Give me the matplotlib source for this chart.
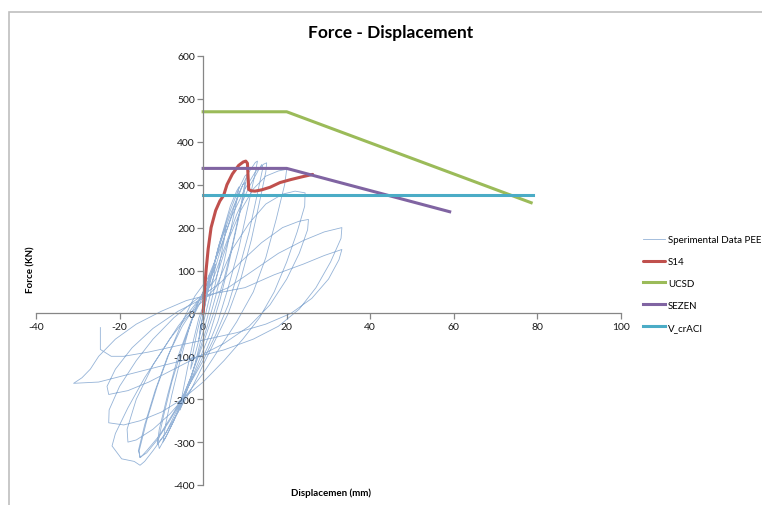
import matplotlib
matplotlib.use("Agg")
import matplotlib.pyplot as plt
from matplotlib.patches import Rectangle

plt.rcParams['font.family'] = ['Lato', 'DejaVu Sans']

# Cyclic test record (displacement mm, force kN), one cycle per row
exp_disp = [
    0, 0.5, 1, 1.5, 1.2, 0.5, -0.5, -1, -0.8, 0,
    1, 2, 3, 2.6, 1.6, 0.5, -0.5, -1.5, -2.5, -3, -2.6, -1.6, -0.6, 0.3,
    1.2, 2.5, 3.8, 5, 5.5, 5, 3.8, 2.5, 1, -0.5, -2, -3.5, -5, -5.5, -5, -3.8, -2.5, -1, 0.5,
    2, 3.5, 5, 6.5, 8, 8.6, 8, 6.5, 5, 3, 1, -1, -3, -5, -7, -9, -9.6, -9, -7.5, -5.5, -3.5, -1.5, 0.5,
    2.5, 4.5, 6.5, 8.5, 10, 10.5, 9.8, 8, 6, 4, 1.5, -1, -3.5, -6, -8.5, -10.5, -10.8, -9.5, -7.5, -5, -2.5, 0,
    3, 5.5, 7.5, 9.5, 10, 9, 7, 5, 2.5, 0, -3, -6, -9, -11, -10.5, -8.5, -6, -3, -0.5,
    2, 4, 6.5, 9, 11, 12.5, 13, 12.3, 10.5, 8.5, 6, 3.5, 1, -2, -5, -8, -11, -13.5, -15.2, -15.3, -13.5, -11, -8, -5, -2, 1,
    4, 7, 10, 12.5, 14.5, 15.2, 15, 13.5, 11.5, 9, 6, 3, 0, -3, -6, -9, -12, -14, -15.1, -16.5, -19.5, -21.8, -21, -18, -14, -10, -6, -2, 2,
    5, 8, 11, 13, 14, 14.3, 13, 11, 8.5, 6, 3, 0, -3.5, -7, -10.5, -13.5, -15, -15.5, -14, -11.5, -8.5, -5, -1, 3,
    6, 9, 12, 15, 18, 20, 19.5, 17.5, 15, 12, 8, 4, 0, -4, -8, -12, -16, -18, -18.2, -16, -12, -8, -4, 0, 3,
    7, 11, 15, 19, 22, 24.4, 24.3, 22.5, 20, 17, 13.5, 9.5, 5, 0, -5, -10, -15, -19, -22.6, -22.5, -20, -16, -12, -7, -2, 4,
    9, 14, 19, 23, 25.2, 25, 23, 20, 16, 11, 5, -1, -7, -13, -18, -22.6, -23, -21, -17, -12, -6, 0, 6,
    12, 18, 24, 29, 33.2, 33, 30.5, 27, 23, 18, 12, 5, -3, -11, -19, -25, -31, -29, -27, -25, -21, -16, -10, -4, 2,
    10, 17, 24, 29, 33.2, 32.5, 30, 26, 21, 15, 8, 1, -6, -13, -19, -22, -24.6, -24.6, -24.6,
]
exp_force = [
    0, 30, 60, 90, 60, 20, -30, -60, -40, 0,
    45, 85, 115, 90, 40, -5, -40, -80, -115, -130, -100, -50, -10, 20,
    60, 110, 160, 195, 205, 170, 110, 50, -10, -60, -120, -170, -210, -225, -190, -130, -70, -10, 30,
    90, 150, 200, 250, 285, 295, 260, 190, 120, 40, -30, -90, -150, -200, -250, -290, -300, -260, -190, -110, -40, 20, 60,
    110, 180, 240, 290, 320, 325, 280, 200, 110, 30, -50, -110, -170, -230, -280, -315, -300, -240, -160, -80, -10, 40,
    110, 190, 250, 300, 305, 250, 160, 80, 0, -70, -150, -220, -280, -305, -270, -190, -100, -20, 40,
    90, 160, 230, 290, 330, 352, 355, 320, 240, 150, 60, -20, -80, -140, -200, -250, -295, -325, -336, -320, -250, -170, -90, -20, 40, 80,
    150, 230, 290, 330, 348, 351, 330, 260, 170, 80, 0, -60, -120, -180, -230, -280, -320, -345, -354, -345, -339, -309, -280, -220, -150, -90, -30, 20, 70,
    150, 230, 295, 330, 347, 340, 280, 190, 100, 20, -50, -110, -170, -230, -285, -320, -336, -320, -260, -180, -100, -30, 30, 80,
    170, 240, 290, 320, 332, 336, 300, 220, 130, 50, -20, -80, -140, -190, -235, -270, -295, -300, -270, -200, -120, -60, -10, 30, 60,
    150, 210, 255, 278, 285, 281, 250, 190, 120, 50, -10, -60, -110, -160, -200, -230, -250, -260, -255, -225, -170, -110, -60, -10, 30, 70,
    120, 165, 200, 215, 219, 195, 140, 80, 20, -30, -70, -100, -130, -160, -180, -189, -170, -130, -80, -35, 5, 35, 60,
    100, 140, 170, 190, 200, 175, 120, 60, 10, -30, -60, -85, -105, -125, -145, -160, -163, -150, -130, -100, -60, -25, 5, 30, 45,
    60, 90, 115, 135, 149, 125, 80, 35, 0, -25, -45, -60, -75, -90, -100, -100, -84, -55, -33,
]

# Monotonic S14 response
s14_disp = [0, 0.3, 0.7, 1.2, 1.9, 3.0, 4.0, 4.9, 5.7, 7.0, 8.5, 9.6, 10.2, 10.6, 10.9, 11.4, 12.4, 14.0, 16.0, 18.4, 21.0, 23.5, 26.2]
s14_force = [0, 50, 100, 150, 200, 240, 262, 275, 300, 325, 345, 353, 355, 350, 289, 286, 285, 288, 294, 305, 312, 318, 324]

# Capacity models
ucsd_disp = [0, 20, 78.5]
ucsd_force = [470, 470, 258]
sezen_disp = [0, 20, 59]
sezen_force = [338, 338, 237]
aci_disp = [0, 79]
aci_force = [275, 275]

x_ticks = list(range(-40, 101, 20))
y_ticks = list(range(-400, 601, 100))

fig = plt.figure(figsize=(7.62, 5.06), dpi=100)
ax = fig.add_axes([36 / 762, 1 - 486 / 506, (621 - 36) / 762, (486 - 57) / 506])

ax.plot(exp_disp, exp_force, color='#4F81BD', lw=0.6, alpha=0.6, label='Sperimental Data PEER')
ax.plot(s14_disp, s14_force, color='#C0504D', lw=2.2, label='S14', solid_capstyle='round')
ax.plot(ucsd_disp, ucsd_force, color='#9BBB59', lw=2.2, label='UCSD')
ax.plot(sezen_disp, sezen_force, color='#8064A2', lw=2.2, label='SEZEN')
ax.plot(aci_disp, aci_force, color='#4BACC6', lw=2.2, label='V_crACI')

ax.set_xlim(-40, 100)
ax.set_ylim(-400, 600)
ax.set_xticks(x_ticks)
ax.set_yticks(y_ticks)
ax.set_xticklabels([str(v) for v in x_ticks])
ax.set_yticklabels([str(v) for v in y_ticks])

for side in ('top', 'right'):
    ax.spines[side].set_visible(False)
ax.spines['left'].set_position(('data', 0))
ax.spines['bottom'].set_position(('data', 0))
for side in ('left', 'bottom'):
    ax.spines[side].set_color('#868686')
    ax.spines[side].set_linewidth(0.9)
ax.tick_params(axis='both', direction='out', length=4, width=0.9, color='#868686',
               labelsize=7.5, labelcolor='#1a1a1a', pad=2)

fig.text(391 / 762, 1 - 33 / 506, 'Force - Displacement', ha='center', va='center',
         fontsize=12.5, fontweight='bold')
fig.text(331 / 762, 1 - 493 / 506, 'Displacemen (mm)', ha='center', va='center',
         fontsize=7, fontweight='bold')
fig.text(31 / 762, 1 - 270 / 506, 'Force (KN)', ha='center', va='center',
         fontsize=7, fontweight='bold', rotation=90)

fig.legend(loc='upper left', bbox_to_anchor=(643 / 762, 1 - 236 / 506), frameon=False,
           fontsize=7.0, handlelength=2.3, handletextpad=0.25, labelspacing=1.33,
           borderpad=0, borderaxespad=0)

fig.add_artist(Rectangle((9 / 762, -0.2), 2.0, 1.2 - 13 / 506, transform=fig.transFigure,
                         fill=False, edgecolor='#BFBFBF', lw=1.2))

fig.savefig('out.png', dpi=100)
